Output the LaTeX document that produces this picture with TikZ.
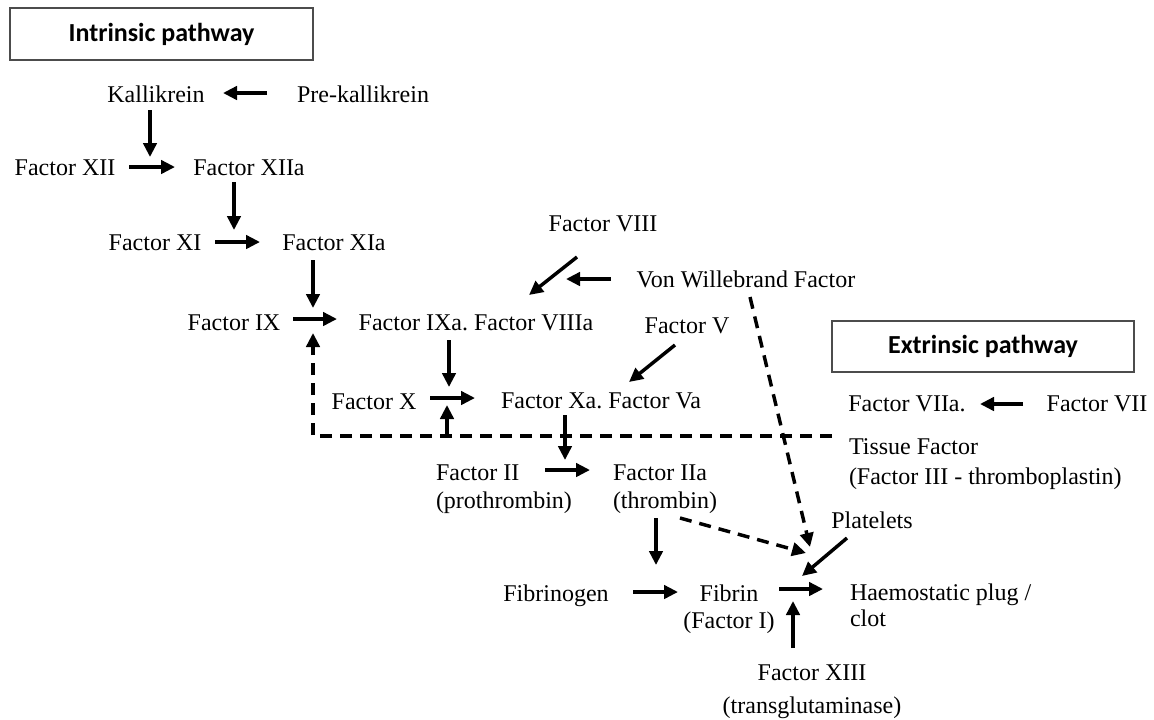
\documentclass[tikz,border=0pt]{standalone}
\usepackage{fontspec}
\setmainfont{Liberation Serif}
\newfontfamily\titlefont{Carlito}
\usetikzlibrary{arrows.meta}
\frenchspacing
\begin{document}
\begin{tikzpicture}[x=0.75pt,y=-0.75pt,
  txt/.style={inner sep=0pt, outer sep=0pt, font=\frenchspacing\fontsize{18}{22}\selectfont, text height=12pt, text depth=0pt},
  mtxt/.style={inner sep=0pt, outer sep=0pt, text height=12pt, text depth=0pt},
  titlebox/.style={draw=black!70, line width=1.1pt, inner sep=0pt, font=\titlefont\bfseries\fontsize{19.5}{23}\selectfont},
  arr/.style={line width=2.6pt, -{Triangle[length=10.5pt,width=10pt]}},
  dasharr/.style={arr, dash pattern=on 9pt off 6pt},
  dashline/.style={line width=2.6pt, dash pattern=on 9pt off 6pt}]
\useasboundingbox (0,0) rectangle (1154,719);

% title boxes
\node[titlebox, minimum width=227.25pt, minimum height=39pt] (intr) at (161.5,34) {Intrinsic pathway};
\node[titlebox, minimum width=226.5pt, minimum height=38.25pt] (extr) at (983,346.5) {Extrinsic pathway};

% single-line nodes
\node[txt] (kall) at (156,94) {Kallikrein};
\node[txt] (prek) at (363,94) {Pre-kallikrein};
\node[txt] (xii) at (65,167) {Factor XII};
\node[txt] (xiia) at (249,167) {Factor XIIa};
\node[txt] (xi) at (155,242) {Factor XI};
\node[txt] (xia) at (334,242) {Factor XIa};
\node[txt] (ix) at (234,322) {Factor IX};
\node[txt] (ixa) at (476,322) {Factor IXa. Factor VIIIa};
\node[txt] (viii) at (603,223) {Factor VIII};
\node[txt] (vwf) at (746,279) {Von Willebrand Factor};
\node[txt] (v) at (687,325) {Factor V};
\node[txt] (x) at (374,401) {Factor X};
\node[txt] (xa) at (601,400) {Factor Xa. Factor Va};
\node[txt] (viia) at (907,403) {Factor VIIa.};
\node[txt] (vii) at (1097,403) {Factor VII};
\node[txt] (plat) at (872,520) {Platelets};
\node[txt] (fgn) at (556,593) {Fibrinogen};

% multi-line nodes (placed by the baseline of their last line)
\node[mtxt, align=left, anchor=south west, font=\fontsize{18}{21}\selectfont] (ii) at (436,508) {Factor II\\(prothrombin)};
\node[mtxt, align=left, anchor=south west, font=\fontsize{18}{20.5}\selectfont] (iia) at (613,508) {Factor IIa\\(thrombin)};
\node[mtxt, align=left, anchor=south west, font=\fontsize{18}{22.5}\selectfont] (tf) at (849,484) {Tissue Factor\\(Factor III - thromboplastin)};
\node[mtxt, align=left, anchor=south west, font=\fontsize{18}{19}\selectfont] (haem) at (850,626) {Haemostatic plug /\\clot};
\node[mtxt, align=center, anchor=south, font=\fontsize{18}{20.25}\selectfont] (fib) at (729,628) {Fibrin\\(Factor I)};
\node[mtxt, align=center, anchor=south, font=\fontsize{18}{24.75}\selectfont] (xiii) at (812,713) {Factor XIII\\(transglutaminase)};

% connector end points
\coordinate (prek-o) at (267,93);   \coordinate (kall-i) at (223,93);
\coordinate (kall-o) at (150,110);  \coordinate (xiiarr-t) at (150,157);
\coordinate (xii-o) at (129,167);   \coordinate (xiia-i) at (175,167);
\coordinate (xiia-o) at (234,182);  \coordinate (xiarr-t) at (234,230);
\coordinate (xi-o) at (215,242);    \coordinate (xia-i) at (260,242);
\coordinate (xia-o) at (313,260);   \coordinate (ixarr-t) at (313,308);
\coordinate (ix-o) at (293,319);    \coordinate (ixa-i) at (337,319);
\coordinate (tf-o) at (832,436);    \coordinate (fb-c) at (313,436);   \coordinate (fb-t) at (313,333);
\coordinate (viii-o) at (577,257);  \coordinate (viii-t) at (529,295);
\coordinate (vwf-o) at (611,279);   \coordinate (vwf-t) at (566,279);
\coordinate (ixa-o) at (449,340);   \coordinate (xarr-t) at (449,387);
\coordinate (x-o) at (430,398);     \coordinate (xa-i) at (475,398);
\coordinate (fb2-o) at (447,436);   \coordinate (fb2-t) at (447,405);
\coordinate (v-o) at (675,345);     \coordinate (v-t) at (629,382);
\coordinate (xa-o) at (565,415);    \coordinate (iiarr-t) at (565,460);
\coordinate (ii-o) at (545,470);    \coordinate (iia-i) at (590,470);
\coordinate (vii-o) at (1023,404);  \coordinate (viia-i) at (980,404);
\coordinate (vwf-d) at (750,297);   \coordinate (plug-t1) at (810,547);
\coordinate (iia-d) at (680,518);   \coordinate (plug-t2) at (806,553);
\coordinate (iia-o) at (656,518);   \coordinate (fgn-t) at (656,565);
\coordinate (plat-o) at (847,538);  \coordinate (plug-t3) at (802,576);
\coordinate (fgn-o) at (633,592);   \coordinate (fib-i) at (678,592);
\coordinate (fib-o) at (779,589);   \coordinate (haem-i) at (823,589);
\coordinate (xiii-o) at (793,648);  \coordinate (plug-t4) at (793,601);

% solid arrows
\draw[arr] (prek-o) -- (kall-i);
\draw[arr] (kall-o) -- (xiiarr-t);
\draw[arr] (xii-o) -- (xiia-i);
\draw[arr] (xiia-o) -- (xiarr-t);
\draw[arr] (xi-o) -- (xia-i);
\draw[arr] (xia-o) -- (ixarr-t);
\draw[arr] (ix-o) -- (ixa-i);
\draw[arr] (viii-o) -- (viii-t);
\draw[arr] (vwf-o) -- (vwf-t);
\draw[arr] (ixa-o) -- (xarr-t);
\draw[arr] (x-o) -- (xa-i);
\draw[arr] (fb2-o) -- (fb2-t);
\draw[arr] (v-o) -- (v-t);
\draw[arr] (xa-o) -- (iiarr-t);
\draw[arr] (ii-o) -- (iia-i);
\draw[arr] (vii-o) -- (viia-i);
\draw[arr] (iia-o) -- (fgn-t);
\draw[arr] (plat-o) -- (plug-t3);
\draw[arr] (fgn-o) -- (fib-i);
\draw[arr] (fib-o) -- (haem-i);
\draw[arr] (xiii-o) -- (plug-t4);

% dashed connectors
\draw[dasharr] (tf-o) -- (fb-c) -- (fb-t);
\draw[dasharr] (vwf-d) -- (plug-t1);
\draw[dasharr] (iia-d) -- (plug-t2);
\end{tikzpicture}
\end{document}
